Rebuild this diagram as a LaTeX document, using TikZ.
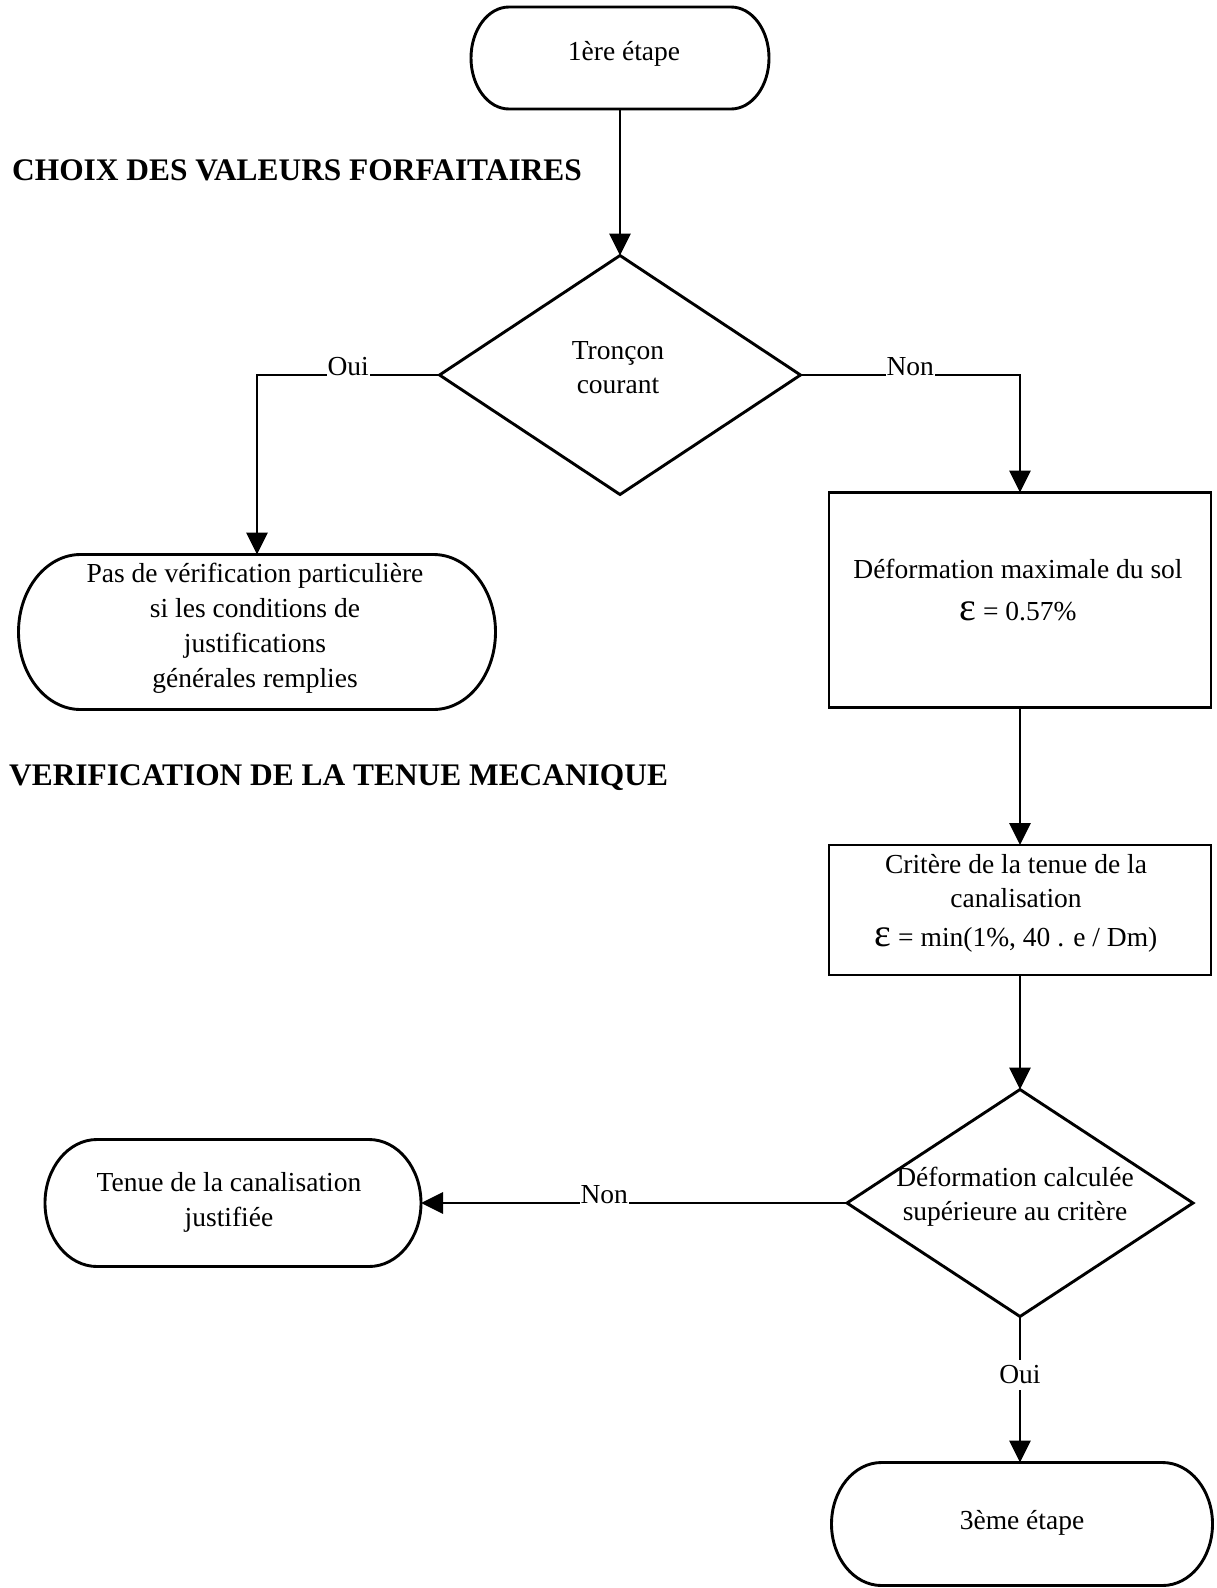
\documentclass[tikz,border=0pt]{standalone}
\usepackage{fontspec}
\setmainfont{Liberation Serif}
\usepackage{graphicx}
\usetikzlibrary{shapes.geometric,arrows.meta}
\newcommand\epsi{\scalebox{1.45}{ε}}
\newcommand\stadiumoutline[3]{%
  \draw[ln] ([xshift=#2]#1.north west) -- ([xshift=-#2]#1.north east)
    arc[start angle=90,end angle=-90,x radius=#2,y radius=#3]
    -- ([xshift=#2]#1.south west)
    arc[start angle=270,end angle=90,x radius=#2,y radius=#3] -- cycle;}
\tikzset{
  ln/.style={line width=2.9pt},
  arr/.style={ln,-{Triangle[length=22pt,width=21pt]}},
  termbox/.style={rectangle,draw=none,inner sep=0pt,outer sep=0pt},
  decision/.style={diamond,draw,line width=2.9pt,inner sep=0pt,outer sep=0pt},
  process/.style={rectangle,draw,line width=2.9pt,inner sep=0pt,outer sep=0pt},
  txt/.style={align=center,font=\fontsize{27.5pt}{34pt}\selectfont,inner sep=0pt},
  heading/.style={anchor=west,font=\fontsize{31.4pt}{36pt}\selectfont\bfseries,inner sep=0pt},
  lbl/.style={font=\fontsize{27.5pt}{34pt}\selectfont,fill=white,inner xsep=1pt,inner ysep=3pt,anchor=base},
  lblv/.style={font=\fontsize{27.5pt}{34pt}\selectfont,fill=white,inner sep=6pt},
}
\begin{document}
\begin{tikzpicture}[x=1pt,y=-1pt]
\useasboundingbox (0,0) rectangle (1216,1588);
% shapes
\node[termbox,minimum width=298pt,minimum height=102pt] (start) at (620,58) {};
\node[decision,minimum width=361pt,minimum height=239pt] (d1) at (620,375) {};
\node[termbox,minimum width=477pt,minimum height=155pt] (pas) at (257,632) {};
\node[process,minimum width=382pt,minimum height=215pt] (def) at (1020,600) {};
\node[process,minimum width=382pt,minimum height=130pt] (crit) at (1020,910) {};
\node[decision,minimum width=346pt,minimum height=227pt] (d2) at (1020,1203) {};
\node[termbox,minimum width=376pt,minimum height=127pt] (tenue) at (233,1203) {};
\node[termbox,minimum width=381pt,minimum height=123pt] (fin) at (1022,1524) {};
\stadiumoutline{start}{38pt}{51pt}
\stadiumoutline{pas}{62pt}{77.5pt}
\stadiumoutline{tenue}{52pt}{63.5pt}
\stadiumoutline{fin}{50pt}{61.5pt}
% texts
\node[txt] (tstart) at (624,54) {1ère étape};
\node[txt] (td1) at (618,368) {Tronçon\\courant};
\node[txt] (tpas) at (255,628) {Pas de vérification particulière\\[1pt]si les conditions de\\[1pt]justifications\\[1pt]générales remplies};
\node[txt] (tdef) at (1018,590) {Déformation maximale du sol\\[8pt]\epsi{} = 0.57\%};
\node[txt] (tcrit) at (1016,903) {Critère de la tenue de la\\canalisation\\[5pt]\epsi{} = min(1\%, 40 . e / Dm)};
\node[txt] (td2) at (1015,1197) {Déformation calculée\\supérieure au critère};
\node[txt] (ttenue) at (229,1202) {Tenue de la canalisation\\[1pt]justifiée};
\node[txt] (tfin) at (1022,1523) {3ème étape};
% headings
\node[heading] (h1) at (12,170) {CHOIX DES VALEURS FORFAITAIRES};
\node[heading] (h2) at (9,778) {VERIFICATION DE LA TENUE MECANIQUE};
% connectors
\draw[arr] (start.south) -- (d1.north);
\draw[arr] (d1.west) -- node[lbl]{Oui} (d1.west -| pas.north) -- (pas.north);
\draw[arr] (d1.east) -- node[lbl]{Non} (d1.east -| def.north) -- (def.north);
\draw[arr] (def.south) -- (crit.north);
\draw[arr] (crit.south) -- (d2.north);
\draw[arr] (d2.west) -- node[lbl,pos=0.57]{Non} (tenue.east);
\draw[arr] (d2.south) -- node[lblv,pos=0.40]{Oui} (d2.south |- fin.north);
\end{tikzpicture}
\end{document}
